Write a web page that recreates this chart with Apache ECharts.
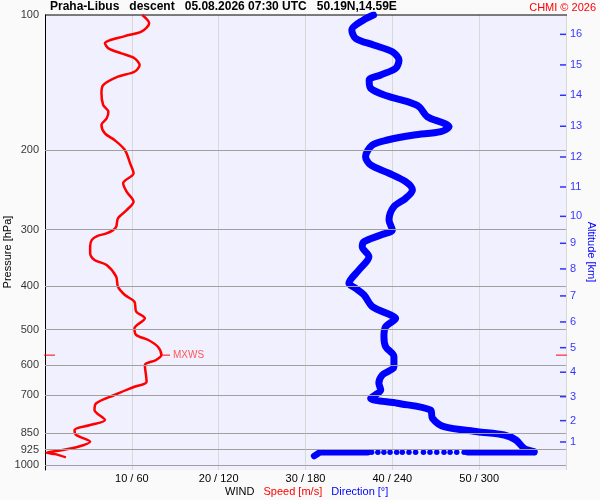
<!DOCTYPE html>
<html><head><meta charset="utf-8">
<script src="https://cdn.jsdelivr.net/npm/echarts/dist/echarts.min.js"></script>
<style>html,body{margin:0;padding:0;background:#fafafa}#c{width:600px;height:500px}</style>
</head><body><div id="c"></div>
<script>
// ---- data ----
const speedPressure = [100,104.3,108.9,111.4,115.6,118.6,121.7,124.8,129.2,133.7,137.1,143.1,149.3,158.5,164.0,169.7,175.5,183.2,189.6,199.5,213.6,224.7,236.6,247,260,271.3,283,295.4,301,306,310,316,326,338.6,350.3,359.4,381.5,401.5,419,433.6,456.3,472,496.8,514,527.5,546,569.6,584.3,599.5,653,670,699,729,755,794,815,836,858,888,911,930,939,946,962];
const speedValues   = [11.2,12.0,11.1,9.2,6.9,7.3,8.8,10.3,10.9,10.3,8.4,6.7,6.5,6.7,7.3,7.1,6.5,6.9,8.0,9.2,9.8,10.2,9.0,9.4,10.2,9.4,8.4,8.2,7.8,7.0,6.0,5.4,5.2,5.2,5.7,7.1,8.2,8.4,9.2,10.3,10.5,11.5,10.3,10.5,11.9,13.0,13.4,12.8,11.5,11.7,10.3,8.0,5.9,5.7,6.9,5.2,3.4,3.6,5.2,3.8,1.5,0.2,1.2,2.4];

const dirPressure = [100,102.6,108,112.7,116.6,120.7,125.9,131.4,135.9,139.5,145.5,151.4,155.8,159.9,168.3,174,177,181.6,184.8,189.6,194.5,206.5,215.4,224.7,234.6,244.8,255.5,266.7,285.5,300.4,308.2,319,327.3,344.4,368.7,394.7,405,419,444.8,464.2,472,492.8,518.6,546,574.4,604.7,631,658.3,681.3,711,729,755,787.5,822,843.3,857.7,880,918.3,934];
const dirValues   = [227,220,212,214.6,227,240,244.6,242.3,232,224,225,236.6,250.4,258.5,264.2,275.7,279.2,273.5,255,236.6,226.2,221.5,225,237.7,249.2,253.9,249.2,241.1,237.7,240,232,220.4,219.2,223.8,216.9,210,214.6,220.4,226.2,238.8,242.3,235.4,234.2,235.4,241.1,241.1,233.1,230.7,232,225,243.5,266.5,267.7,275.7,298.9,317.3,325.4,331.1,338];

// near-surface run of direction points
const surfacePressure = 937;
const surfaceSolidHigh = [338, 292];
const surfaceDots = [289.6,284.5,279.9,275.7,270.7,266,261.5,256.1,251.5,246.9,243,238.4,234.2,230,225.7];
const surfaceSolidLow = [223, 190];
const lastDir = 186, lastPressure = 955;

const pressureTicks = [100,200,300,400,500,600,700,850,925,1000];
const altitudeKm = [1,2,3,4,5,6,7,8,9,10,11,12,13,14,15,16];
const altitudePressure = [889,797,705,622,548.7,481,421,366.7,321.6,280.2,241.1,206.8,176.7,150.8,129.1,110.4];
const mxwsSpeed = 13.4, mxwsPressure = 570;

// ---- chart ----
const FONT = '"Liberation Sans", Arial, sans-serif';
const RED = '#ff0000', BLUE = '#0000ff';
const chart = echarts.init(document.getElementById('c'), null, {renderer:'canvas'});

const speedData = speedValues.map((v,i)=>[v, speedPressure[i]]);
const dirData = dirValues.map((v,i)=>[v, dirPressure[i]]);
const lowRun = surfaceSolidLow.map(d=>[d, surfacePressure]).concat([[lastDir, lastPressure]]);

chart.setOption({
  animation:false,
  backgroundColor:'#fafafa',
  textStyle:{fontFamily:FONT},
  title:[
    {text:'Praha-Libus   descent   05.08.2026 07:30 UTC   50.19N,14.59E', left:50, top:1, padding:0,
     textStyle:{fontSize:12, fontWeight:'bold', color:'#000', fontFamily:FONT}},
    {text:'CHMI © 2026', right:4, top:2, padding:0,
     textStyle:{fontSize:11, fontWeight:'normal', color:RED, fontFamily:FONT}},
    {text:'{k|WIND}   {r|Speed [m/s]}   {b|Direction [°]}', left:225, top:486, padding:0,
     textStyle:{fontSize:11, fontWeight:'normal', fontFamily:FONT,
       rich:{k:{color:'#000',fontSize:11,fontFamily:FONT}, r:{color:RED,fontSize:11,fontFamily:FONT}, b:{color:BLUE,fontSize:11,fontFamily:FONT}}}}
  ],
  grid:{left:45, right:34, top:15, bottom:30, show:true, backgroundColor:'#f0f0ff', borderWidth:0},
  xAxis:[
    {type:'value', min:0, max:60, interval:10,
     axisLine:{show:false}, axisTick:{show:false},
     splitLine:{show:true, lineStyle:{color:'#d8d8d8', width:1}},
     axisLabel:{margin:3, color:'#000', fontSize:11, fontFamily:FONT,
       formatter:v=> (v>0 && v<60) ? (v+' / '+v*6) : ''}},
    {type:'value', min:0, max:360, show:false}
  ],
  yAxis:{type:'log', logBase:10, inverse:true, min:100, max:1026,
    axisLine:{show:true, onZero:false, lineStyle:{color:'#000', width:1}},
    axisTick:{show:false}, axisLabel:{show:false}, splitLine:{show:false}},
  graphic:[
    {type:'text', x:8, y:252, rotation:Math.PI/2,
     style:{text:'Pressure [hPa]', fill:'#000', font:'11px '+FONT, align:'center', verticalAlign:'middle', textAlign:'center', textVerticalAlign:'middle'}},
    {type:'text', x:591, y:252, rotation:-Math.PI/2,
     style:{text:'Altitude [km]', fill:BLUE, font:'11px '+FONT, align:'center', verticalAlign:'middle', textAlign:'center', textVerticalAlign:'middle'}}
  ],
  series:[
    {type:'line', data:[], silent:true,
     markLine:{silent:true, symbol:'none', label:{show:false}, animation:false,
       lineStyle:{color:'#a0a0a0', type:'solid', width:1},
       data:pressureTicks.filter(p=>p>100).map(p=>({yAxis:p}))}},
    {type:'line', data:[[0,100],[63,100]], clip:false, symbol:'none', silent:true,
     lineStyle:{color:'#000', width:1}},
    {type:'scatter', data:pressureTicks.map(p=>[0,p]), symbolSize:0, silent:true,
     label:{show:true, position:'left', distance:6, color:'#000', fontSize:11, fontFamily:FONT,
       formatter:p=>String(p.value[1])}},
    {type:'scatter', data:altitudePressure.map((p,i)=>[60,p,altitudeKm[i]]), symbol:'rect', symbolSize:[6,1.5],
     symbolOffset:[-3,0], clip:false, silent:true, itemStyle:{color:BLUE},
     label:{show:true, position:'right', distance:4, color:BLUE, fontSize:11, fontFamily:FONT,
       formatter:p=>String(p.value[2])}},
    {type:'line', xAxisIndex:1, data:dirData, symbol:'none', smooth:0.3, z:3,
     lineStyle:{color:BLUE, width:7, cap:'round', join:'round'}},
    {type:'line', xAxisIndex:1, data:surfaceSolidHigh.map(d=>[d,surfacePressure]), symbol:'none', z:3,
     lineStyle:{color:BLUE, width:6.5, cap:'round'}},
    {type:'line', xAxisIndex:1, data:lowRun, symbol:'none', z:3,
     lineStyle:{color:BLUE, width:6.5, cap:'round', join:'round'}},
    {type:'scatter', xAxisIndex:1, data:surfaceDots.map(d=>[d,surfacePressure]), symbolSize:5.5, z:3,
     itemStyle:{color:BLUE, opacity:1}},
    {type:'line', data:speedData, symbol:'none', smooth:0.3, clip:false, z:4,
     lineStyle:{color:RED, width:2.5, join:'round'}},
    {type:'line', data:[[mxwsSpeed,mxwsPressure],[mxwsSpeed+1.0,mxwsPressure]], symbol:'none', z:4,
     lineStyle:{color:RED, width:1}},
    {type:'scatter', data:[[mxwsSpeed+1.0,mxwsPressure]], symbolSize:0, z:4,
     label:{show:true, position:'right', distance:3, color:'#ff3030', fontSize:10, fontFamily:FONT, formatter:'MXWS'}},
    {type:'line', data:[[-0.2,mxwsPressure],[1.15,mxwsPressure]], clip:false, symbol:'none', z:4,
     lineStyle:{color:RED, width:1}},
    {type:'line', data:[[58.85,mxwsPressure],[60.1,mxwsPressure]], clip:false, symbol:'none', z:4,
     lineStyle:{color:RED, width:1}}
  ]
});
</script></body></html>
